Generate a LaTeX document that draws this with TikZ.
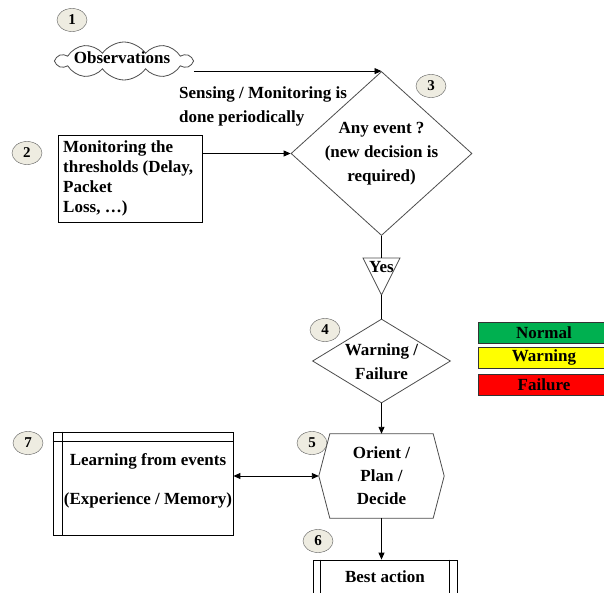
\documentclass[tikz,border=0pt]{standalone}
\usepackage{fontspec}
\setmainfont{Liberation Serif}
\usetikzlibrary{shapes.geometric,shapes.symbols,arrows.meta,calc}
\definecolor{numfill}{RGB}{238,236,225}
\definecolor{lgreen}{RGB}{0,176,80}
\definecolor{lyellow}{RGB}{255,255,0}
\definecolor{lred}{RGB}{255,0,0}
\begin{document}
\begin{tikzpicture}[x=1pt,y=-1pt,
  txt/.style={font=\bfseries\fontsize{17}{24}\selectfont, inner sep=0pt, align=center},
  numc/.style={ellipse, draw=black!65, fill=numfill, minimum width=30pt, minimum height=23pt, inner sep=0pt, font=\bfseries\fontsize{15}{17}\selectfont},
  shp/.style={draw=black!70, line width=0.8pt, inner sep=0pt},
  boxs/.style={draw=black, line width=0.8pt, inner sep=0pt},
  arr/.style={draw=black, line width=0.9pt, -{Triangle[length=7pt,width=6pt]}},
  dbl/.style={draw=black, line width=0.9pt, {Triangle[length=7pt,width=6pt]}-{Triangle[length=7pt,width=6pt]}},
  ln/.style={draw=black, line width=0.9pt},
  lgd/.style={draw=black!80, line width=0.8pt, minimum width=132pt, minimum height=21pt, inner sep=0pt, font=\bfseries\fontsize{17}{20}\selectfont}
]
\useasboundingbox (0,0) rectangle (604,593);

% numbers
\node[numc] (n1) at (72,20) {1};
\node[numc] (n2) at (27,153) {2};
\node[numc] (n3) at (431,86) {3};
\node[numc] (n4) at (325,330) {4};
\node[numc] (n5) at (312,443) {5};
\node[numc] (n6) at (318,541) {6};
\node[numc] (n7) at (28,443) {7};

% observations cloud
\node[cloud, cloud puffs=10, cloud puff arc=110, aspect=3.5, shp, minimum width=135pt, minimum height=38pt] (obs) at (124,61) {};
\node[txt] (obst) at (122,58) {Observations};

% sensing text
\node[txt, align=left, anchor=west] (sens) at (179,106) {Sensing / Monitoring is\\done periodically};

% diamond 3
\node[diamond, shp, minimum width=181pt, minimum height=164pt] (d3) at (381.5,153.5) {};
\node[txt] (d3t) at (381.5,154) {Any event ?\\(new decision is\\required)};

% box 2
\node[boxs, minimum width=144pt, minimum height=87pt] (b2) at (130,178.5) {};
\node[txt, align=left, anchor=west, font=\bfseries\fontsize{17}{20}\selectfont] (b2t) at (63,178) {Monitoring the\\thresholds (Delay,\\Packet\\Loss, \dots)};

% triangle yes
\coordinate (ta) at (363,258);
\coordinate (tb) at (400,258);
\coordinate (tc) at (381.5,295);
\coordinate (ttop) at (381.5,258);
\draw[shp] (ta) -- (tb) -- (tc) -- cycle;
\node[txt] (yes) at (381.5,267) {Yes};

% diamond 4
\node[diamond, shp, minimum width=138pt, minimum height=84pt] (d4) at (381.5,361) {};
\node[txt] (d4t) at (381.5,362) {Warning /\\Failure};

% hexagon 5
\node[txt, minimum width=125pt, minimum height=84pt, font=\bfseries\fontsize{17}{23}\selectfont] (d5) at (381.5,476) {Orient /\\Plan /\\Decide};
\draw[shp] ([xshift=11pt]d5.north west) -- ([xshift=-11pt]d5.north east) -- (d5.east) -- ([xshift=-11pt]d5.south east) -- ([xshift=11pt]d5.south west) -- (d5.west) -- cycle;

% best action
\node[boxs, minimum width=144pt, minimum height=60pt] (ba) at (385,590) {};
\draw[boxs] ([xshift=8pt]ba.north west) -- ([xshift=8pt]ba.south west);
\draw[boxs] ([xshift=-8pt]ba.north east) -- ([xshift=-8pt]ba.south east);
\node[txt] (bat) at (385,577) {Best action};

% learning box 7
\node[boxs, minimum width=180pt, minimum height=103pt] (l7) at (143,483.5) {};
\draw[boxs] ([xshift=10pt]l7.north west) -- ([xshift=10pt]l7.south west);
\draw[boxs] ([yshift=-10pt]l7.north west) -- ([yshift=-10pt]l7.north east);
\node[txt] (l7a) at (148,461) {Learning from events};
\node[txt] (l7b) at (148,500) {(Experience / Memory)};

% legend
\node[lgd, fill=lgreen] (lgn) at (544,332.5) {Normal};
\node[lgd, fill=lyellow] (lgw) at (544,357.5) {Warning};
\node[lgd, fill=lred] (lgf) at (544,384.5) {Failure};

% connectors
\draw[arr] (obs.east |- d3.north) -- (d3.north);
\draw[arr] (b2.east |- d3.west) -- (d3.west);
\draw[ln] (d3.south) -- (ttop);
\draw[ln] (tc) -- (d4.north);
\draw[arr] (d4.south) -- (d5.north);
\draw[arr] (d5.south) -- (d5.south |- ba.north);
\draw[dbl] (l7.east |- d5.west) -- (d5.west);
\end{tikzpicture}
\end{document}
